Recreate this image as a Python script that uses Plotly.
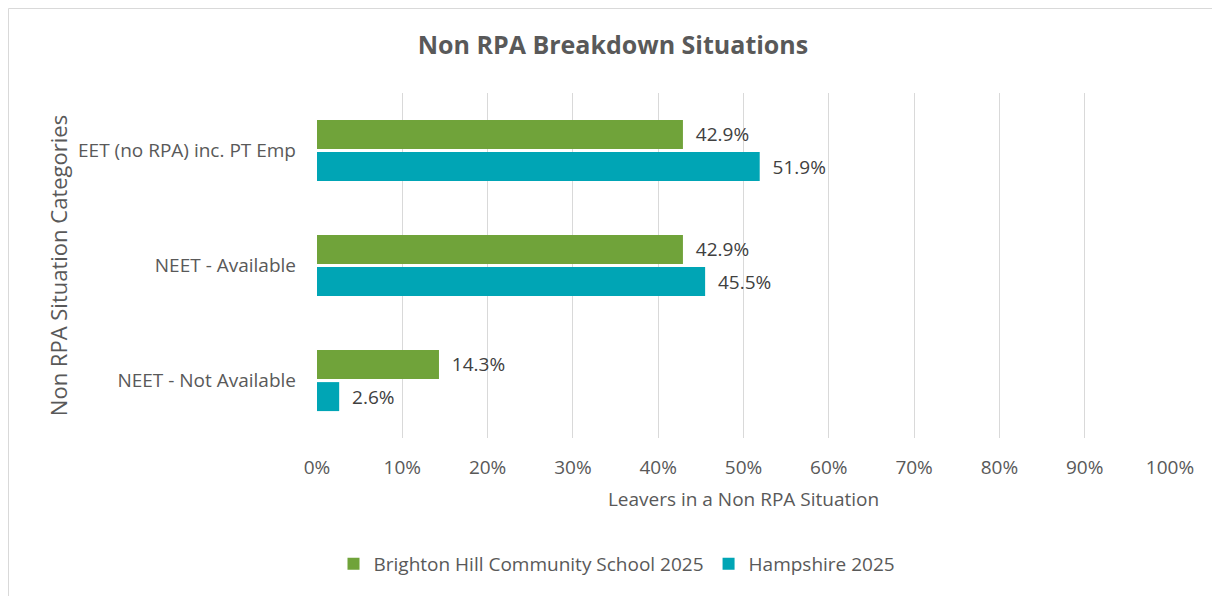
import plotly.graph_objects as go

categories = ["EET (no RPA) inc. PT Emp", "NEET - Available", "NEET - Not Available"]
school_name = "Brighton Hill Community School 2025"
school_vals = [0.429, 0.429, 0.143]
county_name = "Hampshire 2025"
county_vals = [0.519, 0.455, 0.026]
x_ticks = [0, 0.1, 0.2, 0.3, 0.4, 0.5, 0.6, 0.7, 0.8, 0.9, 1.0]
x_tick_labels = ["0%", "10%", "20%", "30%", "40%", "50%", "60%", "70%", "80%", "90%", "100%"]

FONT = "Open Sans"
GREEN = "#70A33A"
TEAL = "#00A5B5"
OFF = 8  # page body margin

fig = go.Figure()
fig.add_trace(go.Bar(
    y=categories, x=school_vals, orientation="h", name=school_name,
    marker=dict(color=GREEN, line=dict(width=0)),
    text=[f"{v*100:.1f}%" for v in school_vals], textposition="outside",
    texttemplate="  %{text}", cliponaxis=False,
    textfont=dict(family=FONT, size=19, color="#404040"),
))
fig.add_trace(go.Bar(
    y=categories, x=county_vals, orientation="h", name=county_name,
    marker=dict(color=TEAL, line=dict(width=0)),
    text=[f"{v*100:.1f}%" for v in county_vals], textposition="outside",
    texttemplate="  %{text}", cliponaxis=False,
    textfont=dict(family=FONT, size=19, color="#404040"),
))

# figure sized to fit the window after the page's 8px body margin
W, H = 1220 - OFF, 596 - OFF
L = 317 - OFF
T = 93 - OFF
R = W - (1170 - OFF)
B = H - (438 - OFF)
pw, ph = W - L - R, H - T - B

fig.update_layout(
    width=W, height=H,
    margin=dict(l=L, r=R, t=T, b=B),
    paper_bgcolor="white", plot_bgcolor="white",
    barmode="group", bargap=0.44, bargroupgap=0.1,
    font=dict(family=FONT, color="#595959"),
    title=dict(text="<b>Non RPA Breakdown Situations</b>", x=(613 - OFF) / W, xanchor="center", xref="container",
               y=1 - (45 - OFF) / H, yanchor="middle", font=dict(size=25, color="#595959", family=FONT)),
    legend=dict(orientation="h", x=(617 - 317) / pw, xanchor="center",
                y=-(564 - 438) / ph, yanchor="middle",
                font=dict(size=19, color="#595959", family=FONT),
                traceorder="normal", itemwidth=30),
    showlegend=True,
)
fig.update_xaxes(
    range=[0, 1.0], tickvals=x_ticks, ticktext=x_tick_labels,
    showgrid=True, gridcolor="#D9D9D9", gridwidth=1.3,
    zeroline=False, showline=False,
    tickfont=dict(size=19, color="#595959"), ticks="", ticklabelstandoff=16,
    title=dict(text="Leavers in a Non RPA Situation", font=dict(size=19, color="#595959"), standoff=13),
)
fig.update_yaxes(
    categoryorder="array", categoryarray=categories, autorange="reversed",
    showgrid=False, zeroline=False, showline=False, ticks="",
    tickfont=dict(size=19, color="#595959"), ticklabelstandoff=20,
    title=dict(text="Non RPA Situation Categories", font=dict(size=22, color="#595959"), standoff=4),
)
# chart frame (left and top edges visible in the window)
fx0 = (0.5 - L) / pw
fy1 = 1 + (T - 0.5) / ph
fig.add_shape(type="line", xref="paper", yref="paper",
              x0=fx0, x1=fx0, y0=-(H + 20 - (T + ph)) / ph, y1=fy1,
              line=dict(color="#D9D9D9", width=1), layer="below")
fig.add_shape(type="line", xref="paper", yref="paper",
              x0=fx0, x1=(W + 20 - L) / pw, y0=fy1, y1=fy1,
              line=dict(color="#D9D9D9", width=1), layer="below")

fig.write_html("out.html")
